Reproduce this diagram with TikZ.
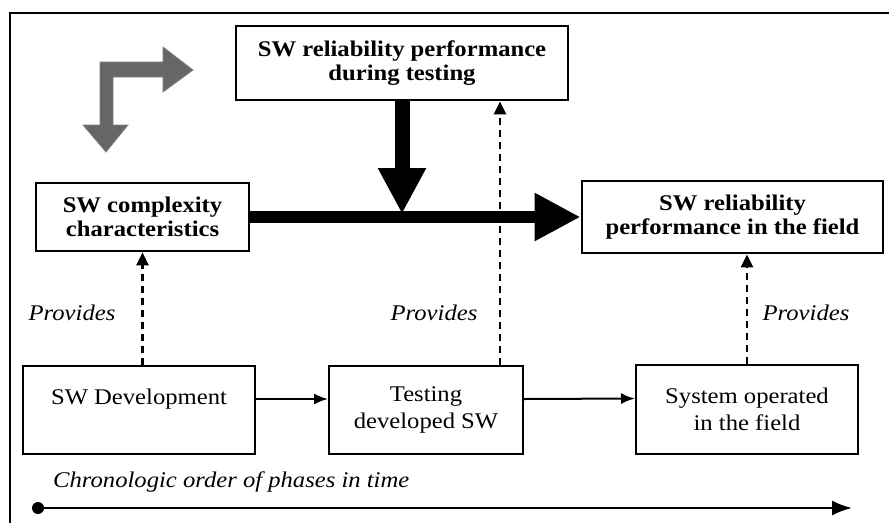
\documentclass[tikz,border=0pt]{standalone}
\usepackage{fontspec}
\setmainfont{Liberation Serif}[FakeStretch=1.1]
\usetikzlibrary{arrows.meta}

\tikzset{
  every node/.style={inner sep=0pt, align=center},
  keybox/.style={draw, line width=2.8pt, font=\fontsize{22.4}{24}\selectfont\bfseries},
  phasebox/.style={draw, line width=2pt, font=\fontsize{22.4}{27}\selectfont},
  provlabel/.style={font=\fontsize{22.4}{24}\selectfont\itshape, anchor=base},
  provides/.style={line width=2.3pt, dash pattern=on 7pt off 5pt, -{Triangle[length=13pt,width=12pt]}},
  flow/.style={line width=2pt, -{Latex[length=14pt,width=11pt]}},
  timeflow/.style={line width=2pt, -{Latex[length=20pt,width=15pt]}},
  bigflow/.style={line width=#1, -{Triangle[length=46pt,width=45pt]}},
  grayarrow/.style={fill=black!60, draw=black!50, line width=0.8pt}
}

\begin{document}
\begin{tikzpicture}[x=1pt, y=-1pt]
  \useasboundingbox (0,0) rectangle (889,523);

  % frame (left and top edges)
  \draw[line width=2pt] (10,523) -- (10,13) -- (889,13);

  % result boxes
  \node[keybox, minimum width=332pt, minimum height=74pt] (top) at (402,63)
    {SW reliability performance\\during testing};
  \node[keybox, minimum width=213pt, minimum height=68pt] (cx) at (142.5,217)
    {SW complexity\\characteristics};
  \node[keybox, minimum width=301pt, minimum height=72pt] (fx) at (732.5,217)
    {SW reliability\\performance in the field};

  % phase boxes
  \node[phasebox, minimum width=232pt, minimum height=88pt] (dev) at (139,410)
    {SW Development\\\mbox{}};
  \node[phasebox, minimum width=194pt, minimum height=88pt] (test) at (426,410)
    {Testing\\developed SW};
  \node[phasebox, minimum width=222pt, minimum height=89pt] (sys) at (747,409.5)
    {System operated\\in the field};

  % grey bent arrow
  \path[grayarrow] (100,62) -- (163,62) -- (163,47) -- (193,70) -- (163,92)
    -- (163,77) -- (113,77) -- (113,125) -- (128,125) -- (106,152)
    -- (83,125) -- (100,125) -- cycle;

  % heavy arrows
  \draw[bigflow=12pt] (cx.east) -- (fx.west);
  \coordinate (join) at (top.south |- cx.east);
  \draw[bigflow=15pt, shorten >=3pt] (top.south) -- (join);

  % "Provides" links
  \draw[provides] (dev.north -| cx.south) -- (cx.south);
  \draw[provides] ([xshift=74pt]test.north) coordinate (p2) -- (p2 |- top.south);
  \draw[provides] (sys.north) -- (sys.north |- fx.south);

  \node[provlabel] (l1) at (72,320) {Provides};
  \node[provlabel] (l2) at (434,320) {Provides};
  \node[provlabel] (l3) at (806,320) {Provides};

  % phase sequence
  \draw[flow] ([yshift=11pt]dev.east) -- ([yshift=11pt]test.west);
  \draw[flow] ([yshift=11pt]test.east) -- ([yshift=11pt]sys.west);

  % time axis
  \node[font=\fontsize{22.4}{24}\selectfont\itshape, anchor=base west] (chron) at (53,487)
    {Chronologic order of phases in time};
  \coordinate (t0) at (38,508);
  \coordinate (t1) at (852,508);
  \fill (t0) circle (6pt);
  \draw[timeflow] (t0) -- (t1);
\end{tikzpicture}
\end{document}
